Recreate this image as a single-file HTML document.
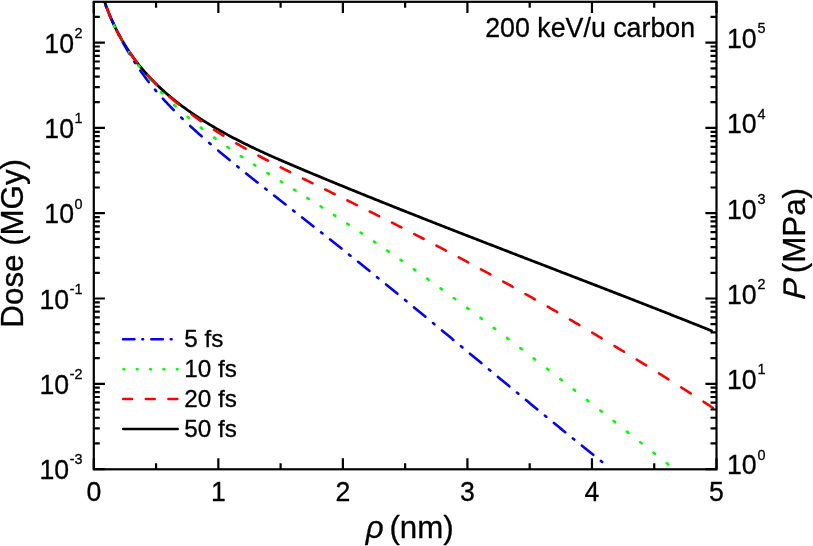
<!DOCTYPE html>
<html><head><meta charset="utf-8"><title>Radial dose</title>
<style>
html,body{margin:0;padding:0;background:#fff;}
body{width:813px;height:546px;overflow:hidden;position:relative;font-family:"Liberation Sans",sans-serif;}
</style></head><body>
<svg width="813" height="546" viewBox="0 0 813 546" style="will-change:transform;filter:opacity(1);display:block;position:absolute;left:0;top:0">
<rect x="0" y="0" width="813" height="546" fill="#fff"/>
<defs><clipPath id="clip"><rect x="93.8" y="1.8" width="622.7" height="467.5"/></clipPath></defs>
<g clip-path="url(#clip)" fill="none" stroke-linejoin="round" stroke-linecap="round">
<path d="M104.72,1.99 L105.26,3.57 L105.82,5.14 L106.38,6.70 L106.96,8.26 L107.54,9.81 L108.14,11.35 L108.74,12.88 L109.36,14.41 L109.99,15.92 L110.63,17.43 L111.28,18.94 L111.94,20.43 L112.61,21.92 L113.29,23.40 L113.98,24.87 L114.68,26.34 L115.39,27.80 L116.11,29.25 L116.85,30.69 L117.59,32.13 L118.34,33.55 L119.10,34.97 L119.88,36.39 L120.66,37.79 L121.45,39.19 L122.26,40.58 L123.07,41.96 L123.90,43.34 L124.73,44.70 L125.57,46.06 L126.43,47.41 L127.29,48.76 L128.16,50.09 L129.05,51.42 L129.94,52.74 L130.84,54.06 L131.75,55.36 L132.67,56.66 L133.61,57.95 L134.55,59.23 L135.50,60.50 L136.46,61.77 L137.43,63.03 L138.41,64.28 L139.39,65.52 L140.39,66.76 L141.40,67.98 L142.42,69.20 L143.44,70.42 L144.48,71.62 L145.52,72.82 L146.58,74.00 L147.64,75.18 L148.71,76.36 L149.79,77.52 L150.88,78.68 L151.98,79.82 L153.09,80.96 L154.21,82.10 L155.34,83.22 L156.47,84.34 L157.61,85.45 L158.76,86.55 L159.92,87.64 L161.09,88.73 L162.27,89.81 L163.45,90.88 L164.64,91.94 L165.84,93.00 L167.05,94.05 L168.26,95.09 L169.48,96.12 L170.71,97.15 L171.94,98.17 L173.18,99.18 L174.43,100.19 L175.68,101.19 L176.94,102.18 L178.21,103.17 L179.48,104.14 L180.76,105.11 L182.05,106.08 L183.34,107.04 L184.63,107.99 L185.93,108.93 L187.24,109.87 L188.55,110.80 L189.87,111.72 L191.19,112.64 L192.51,113.55 L193.85,114.46 L195.18,115.36 L196.52,116.25 L197.87,117.14 L199.21,118.02 L200.57,118.89 L201.92,119.76 L203.28,120.62 L204.65,121.47 L206.01,122.32 L207.38,123.17 L208.76,124.01 L210.13,124.84 L211.51,125.66 L212.90,126.48 L214.28,127.30 L215.67,128.11 L217.06,128.91 L218.45,129.71 L219.85,130.50 L221.24,131.29 L222.64,132.07 L224.04,132.85 L225.44,133.62 L226.85,134.38 L228.25,135.14 L229.66,135.90 L231.07,136.65 L232.48,137.39 L233.89,138.14 L235.31,138.87 L236.72,139.60 L238.14,140.33 L239.56,141.05 L240.98,141.77 L242.40,142.49 L243.82,143.20 L245.25,143.90 L246.67,144.60 L248.10,145.30 L249.53,146.00 L250.96,146.69 L252.39,147.37 L253.82,148.06 L255.26,148.74 L256.69,149.42 L258.13,150.09 L259.57,150.76 L261.01,151.43 L262.45,152.09 L263.89,152.75 L265.34,153.41 L266.78,154.07 L268.23,154.72 L269.68,155.37 L271.13,156.02 L272.58,156.67 L274.03,157.31 L275.48,157.95 L276.93,158.59 L278.39,159.23 L279.84,159.87 L281.30,160.50 L282.76,161.13 L284.22,161.76 L285.68,162.39 L287.14,163.02 L288.60,163.65 L290.06,164.27 L291.53,164.89 L292.99,165.52 L294.46,166.14 L295.92,166.76 L297.39,167.38 L298.86,168.00 L300.33,168.62 L301.80,169.24 L303.27,169.85 L304.74,170.47 L306.22,171.09 L307.69,171.70 L309.16,172.32 L310.64,172.94 L312.12,173.55 L313.59,174.17 L315.07,174.78 L316.55,175.40 L318.03,176.01 L319.50,176.63 L320.98,177.24 L322.47,177.85 L323.95,178.47 L325.43,179.08 L326.91,179.69 L328.39,180.30 L329.88,180.92 L331.36,181.53 L332.85,182.14 L334.33,182.75 L335.82,183.36 L337.30,183.97 L338.79,184.58 L340.27,185.19 L341.76,185.80 L343.25,186.41 L344.74,187.01 L346.23,187.62 L347.71,188.23 L349.20,188.84 L350.69,189.44 L352.18,190.05 L353.67,190.65 L355.16,191.26 L356.65,191.87 L358.14,192.47 L359.63,193.07 L361.12,193.68 L362.62,194.28 L364.11,194.89 L365.60,195.49 L367.09,196.09 L368.58,196.69 L370.07,197.29 L371.57,197.89 L373.06,198.50 L374.55,199.10 L376.04,199.70 L377.53,200.29 L379.03,200.89 L380.52,201.49 L382.01,202.09 L383.50,202.69 L384.99,203.29 L386.49,203.88 L387.98,204.48 L389.47,205.07 L390.96,205.67 L392.45,206.27 L393.94,206.86 L395.44,207.45 L396.93,208.05 L398.42,208.64 L399.91,209.24 L401.40,209.83 L402.89,210.42 L404.38,211.01 L405.87,211.60 L407.37,212.20 L408.86,212.79 L410.35,213.38 L411.84,213.97 L413.33,214.56 L414.82,215.15 L416.31,215.73 L417.80,216.32 L419.29,216.91 L420.78,217.50 L422.28,218.09 L423.77,218.68 L425.26,219.26 L426.75,219.85 L428.24,220.44 L429.73,221.02 L431.22,221.61 L432.71,222.19 L434.20,222.78 L435.69,223.36 L437.18,223.95 L438.67,224.53 L440.16,225.12 L441.65,225.70 L443.14,226.28 L444.63,226.87 L446.12,227.45 L447.61,228.03 L449.10,228.62 L450.59,229.20 L452.08,229.78 L453.57,230.36 L455.06,230.94 L456.55,231.52 L458.04,232.11 L459.53,232.69 L461.02,233.27 L462.51,233.85 L464.00,234.43 L465.49,235.01 L466.98,235.59 L468.47,236.17 L469.96,236.74 L471.45,237.32 L472.94,237.90 L474.43,238.48 L475.92,239.06 L477.41,239.64 L478.90,240.22 L480.39,240.79 L481.88,241.37 L483.37,241.95 L484.86,242.53 L486.35,243.10 L487.84,243.68 L489.33,244.26 L490.82,244.84 L492.31,245.41 L493.80,245.99 L495.29,246.56 L496.78,247.14 L498.27,247.72 L499.76,248.29 L501.25,248.87 L502.74,249.45 L504.23,250.02 L505.72,250.60 L507.21,251.17 L508.70,251.75 L510.18,252.32 L511.67,252.90 L513.16,253.47 L514.65,254.05 L516.14,254.62 L517.63,255.20 L519.12,255.77 L520.61,256.35 L522.10,256.92 L523.59,257.50 L525.08,258.07 L526.57,258.65 L528.06,259.22 L529.55,259.79 L531.04,260.37 L532.53,260.94 L534.02,261.52 L535.51,262.09 L537.00,262.67 L538.49,263.24 L539.98,263.81 L541.47,264.39 L542.96,264.96 L544.45,265.54 L545.94,266.11 L547.43,266.68 L548.92,267.26 L550.41,267.83 L551.90,268.41 L553.39,268.98 L554.88,269.56 L556.37,270.13 L557.86,270.70 L559.35,271.28 L560.84,271.85 L562.33,272.43 L563.82,273.00 L565.31,273.58 L566.80,274.15 L568.29,274.73 L569.78,275.30 L571.27,275.88 L572.76,276.45 L574.25,277.02 L575.74,277.60 L577.23,278.17 L578.72,278.75 L580.21,279.33 L581.70,279.90 L583.19,280.48 L584.68,281.05 L586.17,281.63 L587.66,282.20 L589.15,282.78 L590.64,283.36 L592.13,283.93 L593.62,284.51 L595.11,285.08 L596.60,285.66 L598.10,286.24 L599.59,286.81 L601.08,287.39 L602.57,287.97 L604.06,288.55 L605.55,289.12 L607.04,289.70 L608.53,290.28 L610.02,290.86 L611.51,291.43 L613.00,292.01 L614.50,292.59 L615.99,293.17 L617.48,293.75 L618.97,294.33 L620.46,294.91 L621.95,295.49 L623.44,296.07 L624.94,296.65 L626.43,297.23 L627.92,297.81 L629.41,298.39 L630.90,298.97 L632.39,299.55 L633.89,300.13 L635.38,300.71 L636.87,301.29 L638.36,301.88 L639.85,302.46 L641.35,303.04 L642.84,303.62 L644.33,304.21 L645.82,304.79 L647.31,305.37 L648.81,305.96 L650.30,306.54 L651.79,307.13 L653.28,307.71 L654.78,308.30 L656.27,308.88 L657.76,309.47 L659.26,310.05 L660.75,310.64 L662.24,311.22 L663.73,311.81 L665.23,312.40 L666.72,312.99 L668.21,313.57 L669.71,314.16 L671.20,314.75 L672.69,315.34 L674.19,315.93 L675.68,316.52 L677.17,317.11 L678.67,317.70 L680.16,318.29 L681.66,318.88 L683.15,319.47 L684.64,320.06 L686.14,320.65 L687.63,321.25 L689.13,321.84 L690.62,322.43 L692.11,323.03 L693.61,323.62 L695.10,324.21 L696.60,324.81 L698.09,325.40 L699.59,326.00 L701.08,326.60 L702.58,327.19 L704.07,327.79 L705.57,328.39 L707.06,328.98 L708.56,329.58 L710.05,330.18 L711.55,330.78" stroke="#000" stroke-width="2.8"/>
<path d="M105.67,5.71 L105.72,5.82 L106.24,7.11 M109.42,14.68 L109.49,14.85 L110.15,16.36 L110.81,17.87 L111.48,19.37 L112.16,20.87 L112.84,22.36 L113.53,23.84 L114.22,25.32 L114.58,26.08 M118.29,33.68 L118.30,33.70 L119.00,35.08 M123.00,42.65 L123.06,42.77 L123.83,44.17 L124.61,45.56 L125.39,46.95 L126.18,48.34 L126.98,49.71 L127.78,51.09 L128.59,52.45 L129.40,53.82 L129.55,54.05 M134.30,61.65 L134.33,61.70 L135.19,63.03 L135.21,63.05 M140.36,70.63 L140.41,70.70 L141.32,71.99 L142.25,73.27 L143.17,74.55 L144.11,75.82 L145.05,77.09 L146.01,78.36 L146.97,79.61 L147.93,80.87 L148.84,82.03 M155.02,89.63 L155.05,89.66 L156.08,90.88 L156.21,91.03 M162.87,98.60 L162.93,98.66 L164.01,99.85 L165.09,101.02 L166.18,102.20 L167.28,103.37 L168.38,104.53 L169.49,105.69 L170.60,106.85 L171.71,108.01 L172.84,109.16 L173.67,110.00 M181.25,117.51 L181.25,117.52 L182.41,118.64 L182.65,118.86 M190.22,125.99 L190.33,126.10 L191.52,127.19 L192.71,128.28 L193.90,129.36 L195.09,130.45 L196.29,131.53 L197.49,132.60 L198.69,133.68 L199.89,134.75 L201.10,135.82 L201.62,136.28 M209.22,142.91 L209.27,142.95 L210.49,144.00 L210.62,144.12 M218.19,150.56 L218.27,150.62 L219.49,151.65 L220.72,152.68 L221.94,153.71 L223.17,154.73 L224.40,155.75 L225.63,156.77 L226.86,157.79 L228.09,158.81 L229.32,159.82 L229.59,160.05 M237.19,166.25 L237.20,166.25 L238.43,167.25 L238.59,167.38 M246.17,173.47 L246.19,173.49 L247.44,174.49 L248.68,175.48 L249.93,176.47 L251.17,177.47 L252.42,178.46 L253.67,179.45 L254.91,180.44 L256.16,181.42 L257.41,182.41 L257.57,182.53 M265.17,188.52 L265.23,188.57 L266.48,189.56 L266.57,189.62 M274.14,195.56 L274.17,195.58 L275.42,196.57 L276.68,197.55 L277.94,198.54 L279.19,199.52 L280.45,200.50 L281.71,201.49 L282.97,202.47 L284.22,203.46 L285.48,204.44 L285.54,204.49 M293.14,210.44 L293.20,210.48 L294.46,211.47 L294.54,211.53 M302.11,217.47 L302.17,217.52 L303.43,218.50 L304.69,219.49 L305.95,220.48 L307.22,221.47 L308.48,222.46 L309.74,223.45 L311.00,224.44 L312.26,225.43 L313.51,226.42 M321.11,232.40 L321.23,232.49 L322.49,233.49 L322.51,233.50 M330.08,239.48 L330.20,239.57 L331.46,240.57 L332.71,241.57 L333.97,242.56 L335.23,243.56 L336.48,244.55 L337.74,245.55 L338.99,246.55 L340.25,247.55 L341.48,248.53 M349.08,254.60 L349.17,254.67 L350.43,255.67 L350.48,255.72 M358.06,261.79 L358.08,261.81 L359.33,262.82 L360.58,263.82 L361.82,264.82 L363.07,265.83 L364.32,266.84 L365.56,267.84 L366.81,268.85 L368.06,269.85 L369.30,270.86 L369.46,270.99 M377.06,277.14 L377.08,277.16 L378.32,278.17 L378.46,278.28 M386.03,284.44 L386.08,284.48 L387.32,285.49 L388.56,286.51 L389.80,287.52 L391.04,288.53 L392.28,289.54 L393.52,290.56 L394.76,291.57 L396.00,292.58 L397.24,293.59 L397.43,293.75 M405.03,299.98 L405.12,300.06 L406.36,301.08 L406.43,301.13 M414.00,307.36 L414.08,307.42 L415.32,308.44 L416.55,309.46 L417.79,310.47 L419.02,311.49 L420.26,312.51 L421.49,313.53 L422.72,314.54 L423.96,315.56 L425.19,316.58 L425.40,316.75 M433.00,323.03 L433.05,323.07 L434.28,324.09 L434.40,324.19 M441.97,330.45 L441.98,330.46 L443.22,331.48 L444.45,332.50 L445.68,333.52 L446.91,334.54 L448.14,335.56 L449.37,336.58 L450.60,337.60 L451.83,338.62 L453.06,339.64 L453.37,339.90 M460.97,346.20 L461.06,346.28 L462.29,347.30 L462.37,347.36 M469.95,353.65 L469.98,353.68 L471.21,354.70 L472.45,355.72 L473.68,356.74 L474.91,357.77 L476.14,358.79 L477.37,359.81 L478.60,360.83 L479.83,361.85 L481.06,362.87 L481.35,363.11 M488.95,369.41 L489.06,369.51 L490.29,370.53 L490.35,370.57 M497.92,376.85 L497.98,376.90 L499.21,377.92 L500.44,378.95 L501.68,379.97 L502.91,380.99 L504.14,382.01 L505.37,383.02 L506.60,384.04 L507.83,385.06 L509.07,386.08 L509.32,386.29 M516.92,392.57 L516.93,392.58 L518.16,393.60 L518.32,393.73 M525.89,399.98 L526.02,400.09 L527.26,401.11 L528.49,402.12 L529.73,403.14 L530.96,404.16 L532.20,405.17 L533.44,406.19 L534.67,407.21 L535.91,408.22 L537.14,409.24 L537.29,409.36 M544.89,415.60 L545.03,415.71 L546.27,416.72 L546.29,416.74 M553.86,422.94 L554.01,423.06 L555.25,424.07 L556.49,425.08 L557.73,426.09 L558.97,427.11 L560.21,428.12 L561.46,429.13 L562.70,430.14 L563.94,431.15 L565.18,432.16 L565.26,432.23 M572.86,438.39 L572.95,438.47 L574.20,439.48 L574.26,439.53 M581.83,445.65 L581.99,445.77 L583.23,446.78 L584.48,447.78 L585.73,448.79 L586.98,449.79 L588.23,450.79 L589.48,451.80 L590.73,452.80 L591.98,453.80 L593.23,454.81 L593.23,454.81 M600.83,460.89 L600.90,460.94 L602.15,461.94 L602.23,462.01" stroke="#0000ff" stroke-width="2.5999999999999996"/>
<path d="M108.24,12.11 L108.25,12.14 L108.81,13.51 M114.10,25.43 L114.12,25.47 L114.78,26.83 M121.02,38.74 L121.05,38.79 L121.81,40.14 M129.08,52.06 L129.18,52.22 L129.99,53.46 M138.35,65.37 L138.46,65.52 L139.40,66.77 M148.95,78.69 L149.02,78.77 L150.05,79.99 L150.14,80.09 M160.98,92.00 L161.02,92.05 L162.13,93.19 L162.33,93.40 M174.21,105.00 L174.21,105.00 L175.37,106.08 L175.61,106.29 M187.52,116.78 L187.61,116.86 L188.83,117.88 L188.92,117.96 M200.83,127.57 L200.92,127.64 L202.18,128.62 L202.23,128.66 M214.15,137.60 L214.30,137.71 L215.55,138.62 M227.46,147.03 L227.49,147.04 L228.80,147.95 L228.86,147.99 M240.78,156.01 L240.88,156.07 L242.18,156.93 M254.09,164.65 L254.11,164.66 L255.45,165.52 L255.49,165.54 M267.41,173.07 L267.45,173.09 L268.80,173.94 L268.81,173.94 M280.72,181.36 L280.85,181.44 L282.12,182.23 M294.04,189.63 L294.12,189.68 L295.44,190.50 M307.35,197.96 L307.37,197.96 L308.72,198.82 L308.75,198.84 M320.67,206.41 L320.74,206.45 L322.07,207.31 M333.98,214.99 L334.06,215.04 L335.38,215.90 M347.30,223.70 L347.33,223.71 L348.67,224.60 L348.70,224.62 M360.61,232.53 L360.70,232.59 L362.01,233.47 M373.93,241.50 L374.00,241.56 L375.33,242.46 M387.24,250.61 L387.40,250.72 L388.64,251.58 M400.56,259.85 L400.56,259.85 L401.88,260.77 L401.96,260.83 M413.87,269.22 L413.99,269.29 L415.27,270.21 M427.19,278.71 L427.34,278.81 L428.59,279.71 M440.50,288.31 L440.63,288.41 L441.90,289.33 M453.82,298.03 L453.87,298.07 L455.16,299.02 L455.22,299.06 M467.13,307.86 L467.21,307.92 L468.49,308.87 L468.53,308.90 M480.45,317.79 L480.50,317.83 L481.78,318.78 L481.85,318.84 M493.76,327.81 L493.91,327.91 L495.16,328.87 M507.08,337.91 L507.11,337.94 L508.38,338.91 L508.48,338.98 M520.39,348.10 L520.43,348.13 L521.70,349.11 L521.79,349.18 M533.71,358.36 L533.72,358.37 L534.99,359.35 L535.11,359.44 M547.02,368.69 L547.14,368.78 L548.40,369.76 L548.42,369.78 M560.34,379.07 L560.38,379.10 L561.64,380.09 L561.74,380.17 M573.65,389.50 L573.75,389.58 L575.01,390.57 L575.05,390.60 M586.97,399.98 L587.11,400.09 L588.37,401.08 M600.28,410.49 L600.30,410.50 L601.56,411.50 L601.68,411.60 M613.60,421.02 L613.64,421.06 L614.90,422.05 L615.00,422.13 M626.91,431.58 L626.98,431.63 L628.24,432.63 L628.31,432.69 M640.23,442.14 L640.32,442.22 L641.58,443.21 L641.63,443.25 M653.54,452.70 L653.67,452.81 L654.93,453.80 L654.94,453.81 M666.86,463.26 L666.88,463.28 L668.13,464.27 L668.26,464.37" stroke="#00ff00" stroke-width="2.5999999999999996"/>
<path d="M107.07,8.48 L107.07,8.48 L107.64,10.04 L108.22,11.59 L108.81,13.14 L109.42,14.68 L110.04,16.20 L110.67,17.72 L110.73,17.88 M116.72,30.73 L116.78,30.85 L117.53,32.29 L118.29,33.72 L119.05,35.14 L119.83,36.55 L120.62,37.96 L121.42,39.36 L121.87,40.13 M130.06,52.98 L130.12,53.06 L131.03,54.38 L131.96,55.68 L132.89,56.97 L133.83,58.26 L134.78,59.54 L135.74,60.81 L136.71,62.08 L136.94,62.38 M147.70,75.23 L147.82,75.36 L148.89,76.54 L149.97,77.71 L151.06,78.88 L152.15,80.03 L153.25,81.18 L154.36,82.33 L155.48,83.46 L156.60,84.59 L156.63,84.63 M169.48,96.64 L169.55,96.70 L170.75,97.75 L171.96,98.79 L173.17,99.83 L174.39,100.86 L175.62,101.89 L176.85,102.90 L178.09,103.92 L178.88,104.56 M191.73,114.47 L191.86,114.56 L193.15,115.50 L194.45,116.44 L195.75,117.38 L197.05,118.31 L198.36,119.23 L199.67,120.15 L200.99,121.07 L201.13,121.16 M213.98,129.72 L214.00,129.73 L215.35,130.59 L216.70,131.45 L218.05,132.31 L219.41,133.16 L220.77,134.01 L222.13,134.85 L223.38,135.62 M236.23,143.29 L236.35,143.36 L237.73,144.16 L239.11,144.95 L240.49,145.75 L241.88,146.53 L243.26,147.32 L244.65,148.10 L245.63,148.66 M258.49,155.71 L258.60,155.77 L260.00,156.52 L261.40,157.27 L262.80,158.02 L264.21,158.77 L265.62,159.51 L267.02,160.25 L267.89,160.70 M280.74,167.34 L280.80,167.38 L282.22,168.10 L283.64,168.82 L285.06,169.54 L286.48,170.26 L287.90,170.98 L289.32,171.69 L290.14,172.10 M302.99,178.51 L303.06,178.55 L304.49,179.26 L305.92,179.97 L307.35,180.67 L308.78,181.38 L310.22,182.09 L311.65,182.80 L312.39,183.16 M325.24,189.50 L325.29,189.53 L326.73,190.24 L328.17,190.94 L329.60,191.65 L331.04,192.36 L332.48,193.07 L333.92,193.78 L334.64,194.13 M347.49,200.47 L347.60,200.53 L349.05,201.24 L350.49,201.95 L351.93,202.66 L353.37,203.38 L354.81,204.09 L356.25,204.80 L356.89,205.12 M369.74,211.50 L369.75,211.50 L371.19,212.22 L372.63,212.94 L374.07,213.66 L375.51,214.37 L376.95,215.09 L378.39,215.81 L379.14,216.19 M391.99,222.65 L392.03,222.67 L393.46,223.40 L394.89,224.12 L396.33,224.85 L397.76,225.58 L399.19,226.30 L400.62,227.03 L401.39,227.42 M414.24,234.01 L414.37,234.07 L415.79,234.81 L417.22,235.54 L418.64,236.28 L420.07,237.02 L421.49,237.75 L422.91,238.49 L423.64,238.87 M436.49,245.57 L436.58,245.62 L438.00,246.37 L439.42,247.11 L440.84,247.86 L442.25,248.60 L443.67,249.35 L445.08,250.10 L445.89,250.53 M458.74,257.36 L458.86,257.42 L460.27,258.17 L461.68,258.93 L463.09,259.69 L464.50,260.44 L465.91,261.20 L467.32,261.96 L468.14,262.40 M480.99,269.35 L481.03,269.37 L482.43,270.14 L483.83,270.90 L485.24,271.67 L486.64,272.43 L488.04,273.20 L489.44,273.97 L490.39,274.49 M503.24,281.57 L503.26,281.58 L504.65,282.36 L506.05,283.13 L507.45,283.91 L508.84,284.68 L510.24,285.46 L511.63,286.24 L512.64,286.80 M525.49,294.01 L525.56,294.05 L526.95,294.84 L528.34,295.62 L529.73,296.41 L531.12,297.19 L532.51,297.98 L533.90,298.77 L534.89,299.34 M547.74,306.68 L547.76,306.69 L549.14,307.48 L550.53,308.28 L551.91,309.08 L553.30,309.87 L554.68,310.67 L556.06,311.47 L557.14,312.09 M569.99,319.57 L570.04,319.59 L571.42,320.40 L572.80,321.21 L574.17,322.01 L575.55,322.82 L576.93,323.63 L578.31,324.44 L579.39,325.08 M592.24,332.68 L592.40,332.77 L593.77,333.59 L595.15,334.41 L596.52,335.23 L597.89,336.05 L599.26,336.87 L600.64,337.69 L601.64,338.29 M614.49,346.02 L614.51,346.03 L615.87,346.86 L617.24,347.69 L618.61,348.52 L619.98,349.35 L621.34,350.18 L622.71,351.01 L623.89,351.73 M636.74,359.60 L636.87,359.67 L638.24,360.51 L639.60,361.35 L640.96,362.19 L642.32,363.04 L643.69,363.88 L645.05,364.72 L646.14,365.40 M658.99,373.40 L659.16,373.50 L660.52,374.35 L661.88,375.21 L663.24,376.06 L664.60,376.91 L665.96,377.76 L667.31,378.62 L668.39,379.30 M681.24,387.43 L681.39,387.52 L682.74,388.38 L684.10,389.25 L685.45,390.11 L686.81,390.97 L688.16,391.84 L689.51,392.70 L690.64,393.43 M703.50,401.69 L703.55,401.73 L704.90,402.60 L706.25,403.47 L707.60,404.35 L708.95,405.23 L710.30,406.10 L711.65,406.98 L712.90,407.79" stroke="#ff0000" stroke-width="2.5999999999999996"/>
</g>
<rect x="93.8" y="1.8" width="622.7" height="467.5" fill="none" stroke="#000" stroke-width="2.2"/>
<path d="M93.80,469.3 v-11.1 M93.80,1.8 v11.1 M156.07,469.3 v-6.0 M156.07,1.8 v6.0 M218.34,469.3 v-11.1 M218.34,1.8 v11.1 M280.61,469.3 v-6.0 M280.61,1.8 v6.0 M342.88,469.3 v-11.1 M342.88,1.8 v11.1 M405.15,469.3 v-6.0 M405.15,1.8 v6.0 M467.42,469.3 v-11.1 M467.42,1.8 v11.1 M529.69,469.3 v-6.0 M529.69,1.8 v6.0 M591.96,469.3 v-11.1 M591.96,1.8 v11.1 M654.23,469.3 v-6.0 M654.23,1.8 v6.0 M716.50,469.3 v-11.1 M716.50,1.8 v11.1 M93.8,469.10 h11.1 M716.5,469.10 h-11.1 M93.8,443.42 h6.0 M716.5,443.42 h-6.0 M93.8,428.40 h6.0 M716.5,428.40 h-6.0 M93.8,417.74 h6.0 M716.5,417.74 h-6.0 M93.8,409.48 h6.0 M716.5,409.48 h-6.0 M93.8,402.72 h6.0 M716.5,402.72 h-6.0 M93.8,397.01 h6.0 M716.5,397.01 h-6.0 M93.8,392.07 h6.0 M716.5,392.07 h-6.0 M93.8,387.70 h6.0 M716.5,387.70 h-6.0 M93.8,383.80 h11.1 M716.5,383.80 h-11.1 M93.8,358.12 h6.0 M716.5,358.12 h-6.0 M93.8,343.10 h6.0 M716.5,343.10 h-6.0 M93.8,332.44 h6.0 M716.5,332.44 h-6.0 M93.8,324.18 h6.0 M716.5,324.18 h-6.0 M93.8,317.42 h6.0 M716.5,317.42 h-6.0 M93.8,311.71 h6.0 M716.5,311.71 h-6.0 M93.8,306.77 h6.0 M716.5,306.77 h-6.0 M93.8,302.40 h6.0 M716.5,302.40 h-6.0 M93.8,298.50 h11.1 M716.5,298.50 h-11.1 M93.8,272.82 h6.0 M716.5,272.82 h-6.0 M93.8,257.80 h6.0 M716.5,257.80 h-6.0 M93.8,247.14 h6.0 M716.5,247.14 h-6.0 M93.8,238.88 h6.0 M716.5,238.88 h-6.0 M93.8,232.12 h6.0 M716.5,232.12 h-6.0 M93.8,226.41 h6.0 M716.5,226.41 h-6.0 M93.8,221.47 h6.0 M716.5,221.47 h-6.0 M93.8,217.10 h6.0 M716.5,217.10 h-6.0 M93.8,213.20 h11.1 M716.5,213.20 h-11.1 M93.8,187.52 h6.0 M716.5,187.52 h-6.0 M93.8,172.50 h6.0 M716.5,172.50 h-6.0 M93.8,161.84 h6.0 M716.5,161.84 h-6.0 M93.8,153.58 h6.0 M716.5,153.58 h-6.0 M93.8,146.82 h6.0 M716.5,146.82 h-6.0 M93.8,141.11 h6.0 M716.5,141.11 h-6.0 M93.8,136.17 h6.0 M716.5,136.17 h-6.0 M93.8,131.80 h6.0 M716.5,131.80 h-6.0 M93.8,127.90 h11.1 M716.5,127.90 h-11.1 M93.8,102.22 h6.0 M716.5,102.22 h-6.0 M93.8,87.20 h6.0 M716.5,87.20 h-6.0 M93.8,76.54 h6.0 M716.5,76.54 h-6.0 M93.8,68.28 h6.0 M716.5,68.28 h-6.0 M93.8,61.52 h6.0 M716.5,61.52 h-6.0 M93.8,55.81 h6.0 M716.5,55.81 h-6.0 M93.8,50.87 h6.0 M716.5,50.87 h-6.0 M93.8,46.50 h6.0 M716.5,46.50 h-6.0 M93.8,42.60 h11.1 M716.5,42.60 h-11.1 M93.8,16.92 h6.0 M716.5,16.92 h-6.0" stroke="#000" stroke-width="2.2" fill="none"/>
<g font-family='"Liberation Sans", sans-serif' fill="#000" stroke="#000" stroke-width="0.3" stroke-linejoin="round">
<text transform="translate(93.80,501.00) scale(1,1.04)" font-size="26.7" text-anchor="middle">0</text>
<text transform="translate(218.34,501.00) scale(1,1.04)" font-size="26.7" text-anchor="middle">1</text>
<text transform="translate(342.88,501.00) scale(1,1.04)" font-size="26.7" text-anchor="middle">2</text>
<text transform="translate(467.42,501.00) scale(1,1.04)" font-size="26.7" text-anchor="middle">3</text>
<text transform="translate(591.96,501.00) scale(1,1.04)" font-size="26.7" text-anchor="middle">4</text>
<text transform="translate(716.50,501.00) scale(1,1.04)" font-size="26.7" text-anchor="middle">5</text>
<text transform="translate(69.20,479.10) scale(1,1.04)" font-size="26.7" text-anchor="end">10</text>
<text transform="translate(82.60,464.40) scale(1,1.04)" font-size="14.4" text-anchor="end">-3</text>
<text transform="translate(69.20,393.80) scale(1,1.04)" font-size="26.7" text-anchor="end">10</text>
<text transform="translate(82.60,379.10) scale(1,1.04)" font-size="14.4" text-anchor="end">-2</text>
<text transform="translate(69.20,308.50) scale(1,1.04)" font-size="26.7" text-anchor="end">10</text>
<text transform="translate(82.60,293.80) scale(1,1.04)" font-size="14.4" text-anchor="end">-1</text>
<text transform="translate(73.99,223.20) scale(1,1.04)" font-size="26.7" text-anchor="end">10</text>
<text transform="translate(82.60,208.50) scale(1,1.04)" font-size="14.4" text-anchor="end">0</text>
<text transform="translate(73.99,137.90) scale(1,1.04)" font-size="26.7" text-anchor="end">10</text>
<text transform="translate(82.60,123.20) scale(1,1.04)" font-size="14.4" text-anchor="end">1</text>
<text transform="translate(73.99,52.60) scale(1,1.04)" font-size="26.7" text-anchor="end">10</text>
<text transform="translate(82.60,37.90) scale(1,1.04)" font-size="14.4" text-anchor="end">2</text>
<text transform="translate(726.90,474.40) scale(1,1.04)" font-size="26.7" text-anchor="start">10</text>
<text transform="translate(757.49,459.70) scale(1,1.04)" font-size="14.4" text-anchor="start">0</text>
<text transform="translate(726.90,389.10) scale(1,1.04)" font-size="26.7" text-anchor="start">10</text>
<text transform="translate(757.49,374.40) scale(1,1.04)" font-size="14.4" text-anchor="start">1</text>
<text transform="translate(726.90,303.80) scale(1,1.04)" font-size="26.7" text-anchor="start">10</text>
<text transform="translate(757.49,289.10) scale(1,1.04)" font-size="14.4" text-anchor="start">2</text>
<text transform="translate(726.90,218.50) scale(1,1.04)" font-size="26.7" text-anchor="start">10</text>
<text transform="translate(757.49,203.80) scale(1,1.04)" font-size="14.4" text-anchor="start">3</text>
<text transform="translate(726.90,133.20) scale(1,1.04)" font-size="26.7" text-anchor="start">10</text>
<text transform="translate(757.49,118.50) scale(1,1.04)" font-size="14.4" text-anchor="start">4</text>
<text transform="translate(726.90,47.90) scale(1,1.04)" font-size="26.7" text-anchor="start">10</text>
<text transform="translate(757.49,33.20) scale(1,1.04)" font-size="14.4" text-anchor="start">5</text>
<text transform="translate(22.80,243.30) rotate(-90)" font-size="31.3" text-anchor="middle">Dose (MGy)</text>
<text transform="translate(804.60,301.40) rotate(-90) skewX(-15)" font-size="31.3" text-anchor="start">P</text>
<text transform="translate(804.60,273.20) rotate(-90)" font-size="31.3" text-anchor="start">(MPa)</text>
<text transform="translate(365.70,537.50)" font-size="31.3" text-anchor="start"><tspan font-style="italic">ρ</tspan></text>
<text transform="translate(389.40,537.50)" font-size="31.3" text-anchor="start">(nm)</text>
<text transform="translate(485.20,36.80) scale(1,1.02)" font-size="26.8" text-anchor="start">200 keV/u carbon</text>
<text transform="translate(184.20,347.00) scale(1,1.02)" font-size="24.3" text-anchor="start">5 fs</text>
<text transform="translate(184.20,376.90) scale(1,1.02)" font-size="24.3" text-anchor="start">10 fs</text>
<text transform="translate(184.20,406.80) scale(1,1.02)" font-size="24.3" text-anchor="start">20 fs</text>
<text transform="translate(184.20,436.70) scale(1,1.02)" font-size="24.3" text-anchor="start">50 fs</text>
</g>
<g fill="none" stroke-linecap="round" stroke-width="2.5">
<path d="M123.00,339.20 H134.50 M142.30,339.20 H143.10 M151.30,339.20 H162.90 M170.70,339.20 H171.60" stroke="#0000ff"/>
<path d="M123.40,369.15 H124.20 M136.70,369.15 H137.50 M150.10,369.15 H150.90 M163.40,369.15 H164.20 M176.80,369.15 H177.60" stroke="#00ff00"/>
<path d="M123.20,399.10 H132.00 M145.80,399.10 H154.70 M168.40,399.10 H177.30" stroke="#ff0000"/>
<path d="M123.20,429.05 H177.70" stroke="#000"/>
</g>
</svg>
</body></html>
